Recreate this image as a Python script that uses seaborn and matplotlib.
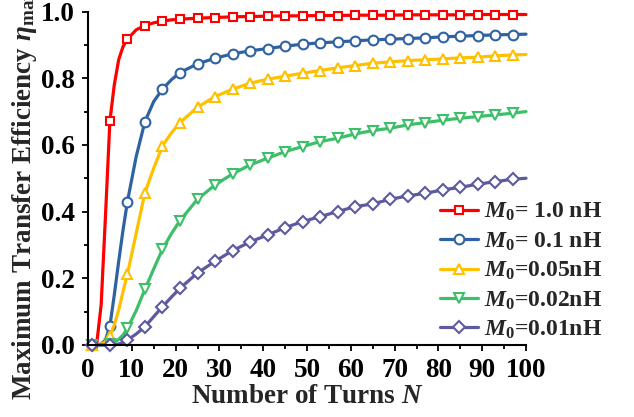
import matplotlib
matplotlib.use("Agg")
import matplotlib.pyplot as plt
import numpy as np
import pandas as pd
import seaborn as sns

# Number of turns at which efficiency was evaluated
turns = [1, 2, 3, 4, 5, 6, 7, 8, 9, 11, 13, 15, 17, 19, 21, 25, 29, 33, 37, 41,
         45, 49, 53, 57, 61, 65, 69, 73, 77, 81, 85, 89, 93, 97, 100]

eff_1p0 = [0.0, 0.005, 0.12, 0.39, 0.672, 0.78, 0.855, 0.895, 0.917, 0.945, 0.958,
           0.966, 0.971, 0.975, 0.977, 0.980, 0.982, 0.984, 0.985, 0.986, 0.987,
           0.987, 0.988, 0.988, 0.989, 0.989, 0.989, 0.990, 0.990, 0.990, 0.990,
           0.991, 0.991, 0.991, 0.991]
eff_0p1 = [0.0, 0.0, 0.003, 0.015, 0.057, 0.15, 0.25, 0.345, 0.43, 0.565, 0.67,
           0.73, 0.767, 0.795, 0.817, 0.843, 0.86, 0.873, 0.882, 0.889, 0.896,
           0.902, 0.906, 0.909, 0.912, 0.915, 0.917, 0.919, 0.921, 0.924, 0.926,
           0.928, 0.930, 0.931, 0.932]
eff_0p05 = [0.0, 0.0, 0.002, 0.01, 0.028, 0.06, 0.105, 0.16, 0.213, 0.335, 0.457,
            0.53, 0.597, 0.635, 0.667, 0.713, 0.745, 0.767, 0.785, 0.797, 0.806,
            0.815, 0.823, 0.831, 0.838, 0.845, 0.849, 0.853, 0.855, 0.858, 0.861,
            0.863, 0.867, 0.870, 0.871]
eff_0p02 = [0.0, 0.0, 0.0, 0.001, 0.003, 0.008, 0.017, 0.03, 0.05, 0.103, 0.167,
            0.228, 0.287, 0.333, 0.373, 0.437, 0.48, 0.513, 0.54, 0.56, 0.58,
            0.595, 0.61, 0.62, 0.633, 0.643, 0.65, 0.66, 0.667, 0.674, 0.68,
            0.685, 0.69, 0.695, 0.70]
eff_0p01 = [0.0, 0.0, 0.0, 0.0, 0.0, 0.0, 0.003, 0.008, 0.015, 0.033, 0.055,
            0.085, 0.115, 0.143, 0.17, 0.216, 0.251, 0.283, 0.309, 0.33, 0.352,
            0.37, 0.385, 0.40, 0.415, 0.423, 0.437, 0.447, 0.455, 0.465, 0.473,
            0.482, 0.49, 0.497, 0.50]

labels = [r"$M_0$= 1.0 nH", r"$M_0$= 0.1 nH", r"$M_0$=0.05nH",
          r"$M_0$=0.02nH", r"$M_0$=0.01nH"]
series = [eff_1p0, eff_0p1, eff_0p05, eff_0p02, eff_0p01]
colors = ["#ff0000", "#2f62a3", "#ffc000", "#3dbf6a", "#5d5aa0"]
markers = ["s", "o", "^", "v", "D"]
msizes = [6.0, 7.0, 7.5, 7.5, 6.0]

x_ticks = list(range(0, 101, 10))
y_ticks = [0.0, 0.2, 0.4, 0.6, 0.8, 1.0]

sns.set_style("ticks")
plt.rcParams["font.family"] = ["Liberation Serif", "DejaVu Serif"]
plt.rcParams["font.weight"] = "bold"
plt.rcParams["mathtext.fontset"] = "custom"
plt.rcParams["mathtext.rm"] = "Liberation Serif:bold"
plt.rcParams["mathtext.bf"] = "Liberation Serif:bold"
plt.rcParams["mathtext.it"] = "Liberation Serif:italic:bold"

fig = plt.figure(figsize=(6.34, 4.17), dpi=100)
ax = fig.add_axes([88 / 634, 72 / 417, 438 / 634, 333.5 / 417])

# Symbols every fourth turn, from N=1 up to N=97
mark_mask = [((n - 1) % 4 == 0) and n <= 97 for n in turns]

for vals, lab, col, mk, ms in zip(series, labels, colors, markers, msizes):
    df = pd.DataFrame({"N": turns, "eta": vals})
    sns.lineplot(data=df, x="N", y="eta", ax=ax, color=col, lw=2.3,
                 marker=mk, markersize=ms, markerfacecolor="white",
                 markeredgecolor=col, markeredgewidth=1.5,
                 markevery=mark_mask, clip_on=False, label=lab, sort=False)

ax.set_xlim(0, 100)
ax.set_ylim(0, 1.0)
ax.set_xticks(x_ticks)
ax.set_yticks(y_ticks)
ax.set_xticklabels([str(t) for t in x_ticks])
ax.set_yticklabels([f"{t:.1f}" for t in y_ticks])
ax.set_xticks(np.arange(5, 100, 10), minor=True)
ax.set_yticks(np.arange(0.1, 1.0, 0.2), minor=True)
ax.tick_params(axis="both", which="major", direction="out", length=4.5,
               width=1.3, labelsize=19.5, pad=5, colors="black")
ax.tick_params(axis="both", which="minor", direction="out", length=3,
               width=1.3, colors="black")
for lab in ax.get_xticklabels() + ax.get_yticklabels():
    lab.set_fontweight("bold")

for side in ["top", "right"]:
    ax.spines[side].set_visible(False)
for side in ["left", "bottom"]:
    ax.spines[side].set_linewidth(1.5)
    ax.spines[side].set_color("black")

ax.set_xlabel(r"Number of Turns $N$", fontsize=19.5, fontweight="bold")
ax.set_ylabel(r"Maximum Transfer Efficiency $\eta_{\rm max}$", fontsize=19.5,
              fontweight="bold")
ax.xaxis.set_label_coords(0.5, -0.117)
ax.yaxis.set_label_coords(-0.111, 0.452)

leg = ax.legend(loc="lower left", bbox_to_anchor=(440 / 634, 76 / 417),
                bbox_transform=fig.transFigure, frameon=False, fontsize=17,
                handlelength=1.6, handletextpad=0.25, labelspacing=0.3,
                borderpad=0, borderaxespad=0)
for t in leg.get_texts():
    t.set_fontweight("bold")

fig.savefig("out.png", dpi=100)
